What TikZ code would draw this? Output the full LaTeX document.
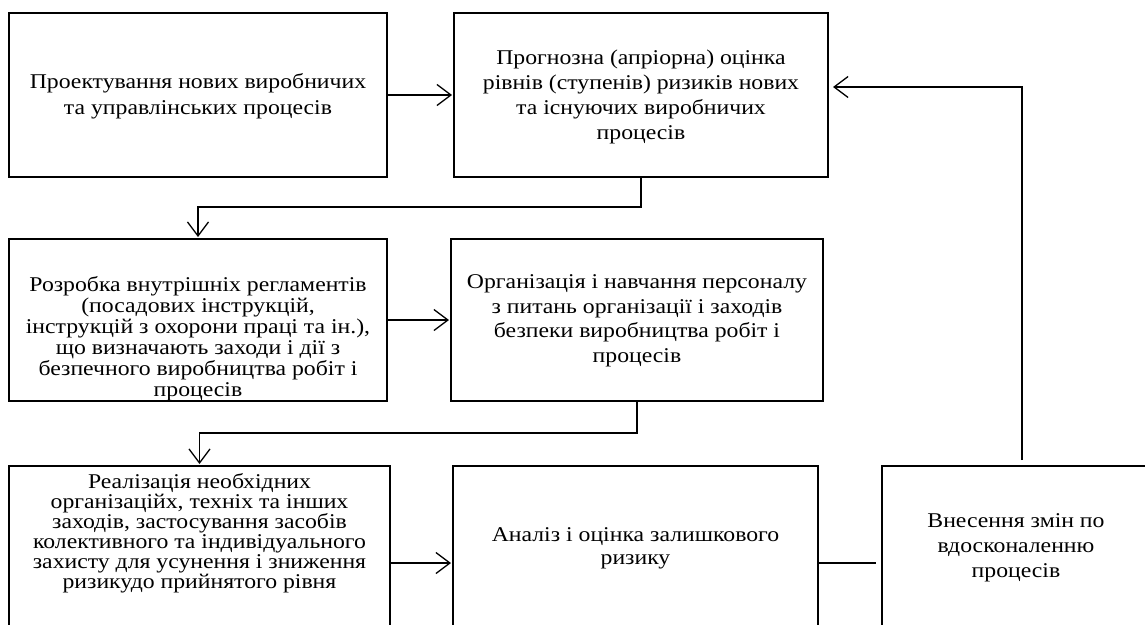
\documentclass[tikz,border=0pt]{standalone}
\usepackage{fontspec}
\setmainfont{Liberation Serif}[FakeStretch=1.13]
\usetikzlibrary{arrows.meta}
\tikzset{
  box/.style={draw=black, line width=1.3pt, inner sep=0pt, outer sep=0pt, fill=none},
  txt/.style={align=center, inner sep=0pt, text=black},
  arr/.style={draw=black, line width=1.3pt, -{Straight Barb[length=14pt,width=21pt,line width=1.3pt]}, shorten >=2pt},
  link/.style={draw=black, line width=1.3pt}
}
\newcommand{\fs}[2]{\fontsize{#1}{#2}\selectfont}
\begin{document}
\begin{tikzpicture}[x=1pt,y=-1pt]
\useasboundingbox (0,0) rectangle (1145,624);
\clip (0,0) rectangle (1145,624);
\fill[white] (0,0) rectangle (1145,624);
% boxes
\node[box, minimum width=378pt, minimum height=164pt] (b1) at (198,95) {};
\node[box, minimum width=374pt, minimum height=164pt] (b2) at (641,95) {};
\node[box, minimum width=378pt, minimum height=162pt] (b3) at (198,320) {};
\node[box, minimum width=372pt, minimum height=162pt] (b4) at (637,320) {};
\node[box, minimum width=381pt, minimum height=194pt] (b5) at (199.5,563) {};
\node[box, minimum width=365pt, minimum height=194pt] (b6) at (635.5,563) {};
\node[box, minimum width=268pt, minimum height=194pt] (b7) at (1016,563) {};
% texts
\node[txt, font=\fs{21}{26}] (t1) at (198,96) {Проектування нових виробничих\\та управлінських процесів};
\node[txt, font=\fs{21}{25}] (t2) at (641,97) {Прогнозна (апріорна) оцінка\\рівнів (ступенів) ризиків нових\\та існуючих виробничих\\процесів};
\node[txt, font=\fs{21}{21}] (t3) at (198,339) {Розробка внутрішніх регламентів\\(посадових інструкцій,\\інструкцій з охорони праці та ін.),\\що визначають заходи і дії з\\безпечного виробництва робіт і\\процесів};
\node[txt, font=\fs{21}{24.5}] (t4) at (637,321) {Організація і навчання персоналу\\з питань організації і заходів\\безпеки виробництва робіт і\\процесів};
\node[txt, font=\fs{21}{20}] (t5) at (199.5,533) {Реалізація необхідних\\організаційх, техніх та інших\\заходів, застосування засобів\\колективного та індивідуального\\захисту для усунення і зниження\\ризикудо прийнятого рівня};
\node[txt, font=\fs{21}{23}] (t6) at (635.5,548) {Аналіз і оцінка залишкового\\ризику};
\node[txt, font=\fs{21}{25}] (t7) at (1016,548) {Внесення змін по\\вдосконаленню\\процесів};
% connectors
\draw[arr] (b1.east) -- (b2.west);
\draw[arr] (b2.south) -- ++(0,30) -| (b3.north);
\draw[arr] (b3.east) -- (b4.west);
\draw[arr] (b4.south) -- ++(0,32) -| (b5.north);
\draw[arr] (b5.east) -- (b6.west);
\draw[link, shorten >=6pt] (b6.east) -- (b7.west);
\draw[arr, shorten <=6pt, shorten >=5pt] ([xshift=6pt]b7.north) |- ([yshift=8pt]b2.east);
\end{tikzpicture}
\end{document}
